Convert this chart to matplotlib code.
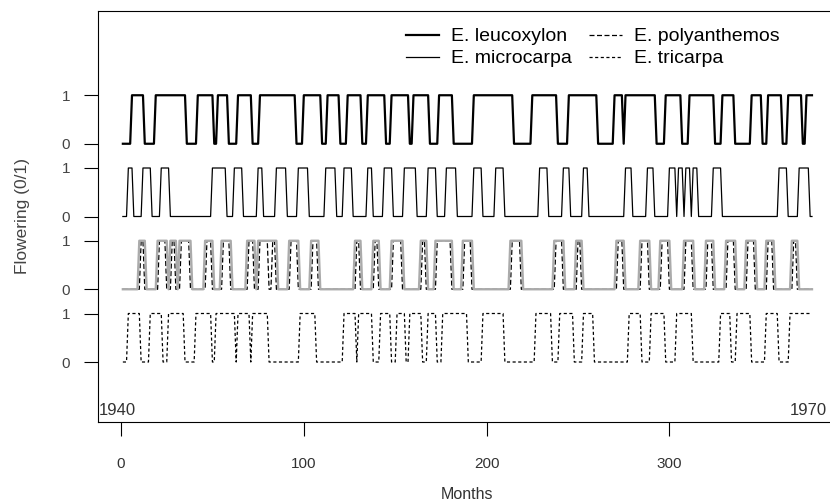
import matplotlib
matplotlib.use('Agg')
import matplotlib.pyplot as plt
import numpy as np

# flowering periods, (first month, last month) with value 1
months = np.arange(1, 379)

leucoxylon = [(6, 12), (19, 35), (42, 50), (53, 58), (64, 71), (76, 95), (100, 109),
              (113, 119), (124, 131), (135, 144), (148, 157), (160, 168), (174, 181),
              (193, 214), (225, 238), (245, 260), (270, 274), (276, 292), (298, 306),
              (311, 324), (329, 335), (345, 350), (354, 361), (365, 372), (375, 378)]

microcarpa = [(4, 6), (12, 16), (22, 26), (50, 57), (62, 66), (75, 77), (85, 90),
              (97, 102), (112, 117), (122, 126), (135, 137), (144, 148), (155, 161),
              (168, 172), (178, 183), (193, 197), (205, 209), (229, 233), (242, 245),
              (253, 255), (276, 279), (288, 291), (300, 303), (305, 307), (309, 311),
              (313, 315), (324, 328), (360, 364), (371, 376)]

polyanthemos_grey = [(10, 13), (20, 25), (27, 30), (32, 38), (46, 50), (55, 60), (69, 73),
                     (75, 81), (82, 85), (92, 97), (104, 108), (128, 131), (138, 141),
                     (148, 154), (164, 167), (172, 181), (187, 192), (213, 219), (237, 242),
                     (249, 252), (271, 275), (284, 289), (295, 300), (308, 313), (320, 324),
                     (331, 336), (342, 347), (353, 357), (367, 370)]

polyanthemos = [(11, 12), (21, 24), (28, 29), (33, 37), (47, 49), (56, 59), (70, 72),
                (76, 80), (83, 84), (93, 96), (105, 107), (129, 130), (139, 140),
                (149, 153), (165, 166), (173, 180), (188, 191), (214, 218), (238, 241),
                (250, 251), (272, 274), (285, 288), (296, 299), (309, 312), (321, 323),
                (332, 335), (343, 346), (354, 356), (368, 369)]

tricarpa = [(4, 10), (16, 22), (26, 34), (41, 49), (52, 62), (64, 70), (72, 80),
            (98, 106), (122, 128), (130, 137), (142, 147), (151, 155), (158, 164),
            (168, 172), (176, 189), (198, 209), (227, 235), (240, 247), (253, 258),
            (278, 284), (290, 297), (304, 312), (328, 333), (337, 344), (353, 359),
            (366, 378)]

offsets = {'tricarpa': 0.0, 'polyanthemos': 1.5, 'microcarpa': 3.0, 'leucoxylon': 4.5}


def flowering(periods):
    y = np.zeros(len(months))
    for start, end in periods:
        y[(months >= start) & (months <= end)] = 1
    return y


plt.rcParams['font.family'] = ['Liberation Sans', 'DejaVu Sans']
fig = plt.figure(figsize=(8.3, 5.01), dpi=100)
ax = fig.add_axes([98 / 830, 79 / 501, 737 / 830, 411 / 501])

ax.plot(months, flowering(leucoxylon) + offsets['leucoxylon'], color='black', lw=1.6,
        label='E. leucoxylon')
ax.plot(months, flowering(microcarpa) + offsets['microcarpa'], color='black', lw=0.9,
        label='E. microcarpa')
ax.plot(months, flowering(polyanthemos) + offsets['polyanthemos'], color='black', lw=0.9,
        linestyle=(0, (4, 2)), label='E. polyanthemos', zorder=2)
ax.plot(months, flowering(polyanthemos_grey) + offsets['polyanthemos'], color='#ababab',
        lw=1.7, zorder=3)
ax.plot(months, flowering(tricarpa) + offsets['tricarpa'], color='black', lw=0.9,
        linestyle=(0, (2.5, 2)), label='E. tricarpa')

ax.set_xlim(-12.6, 390.6)
ax.set_ylim(-1.237, 7.237)

yt = []
for k in ['tricarpa', 'polyanthemos', 'microcarpa', 'leucoxylon']:
    yt += [offsets[k], offsets[k] + 1]
ax.set_yticks(yt)
ax.set_yticklabels(['0', '1'] * 4, fontsize=11, color='#444444')
ax.set_xticks([0, 100, 200, 300])
ax.set_xticklabels(['0', '100', '200', '300'], fontsize=11, color='#333333')
ax.tick_params(axis='x', length=10, pad=15)
ax.tick_params(axis='y', length=10, pad=10)

ax.set_xlabel('Months', fontsize=11.5, color='#333333', labelpad=12)
ax.set_ylabel('Flowering (0/1)', fontsize=12.5, color='#444444', labelpad=23)

ax.text(-12, -1.0, '1940', fontsize=12, color='#333333', ha='left', va='center')
ax.text(386.3, -1.0, '1970', fontsize=12, color='#333333', ha='right', va='center')

ax.legend(loc='upper right', bbox_to_anchor=(0.935, 0.978), ncol=2, frameon=False,
          fontsize=14, handlelength=1.7, handletextpad=0.6, columnspacing=0.9,
          labelspacing=0.22, borderaxespad=0)

fig.savefig('out.png', dpi=100)
